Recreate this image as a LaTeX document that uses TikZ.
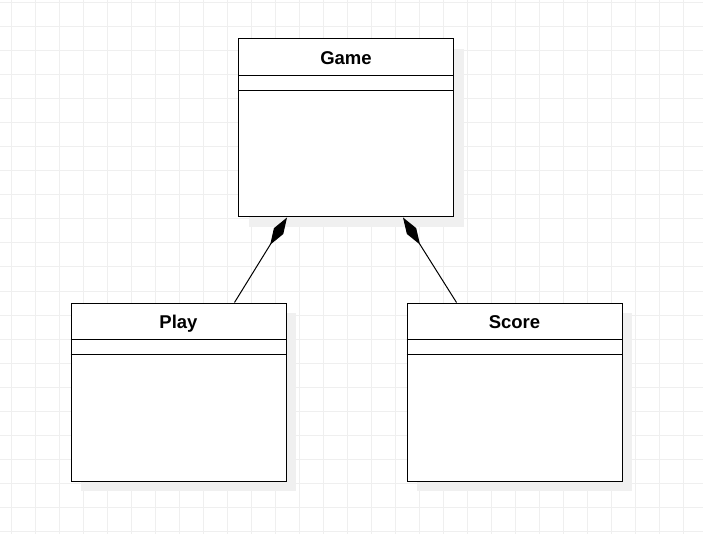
\documentclass[tikz,border=0pt]{standalone}
\usepackage{fontspec}
\setmainfont{Liberation Sans}
\usetikzlibrary{arrows.meta,calc,shadows}
\definecolor{gridgray}{HTML}{EFEFEF}
\definecolor{shadowgray}{HTML}{F0F0F0}
\tikzset{
  classbox/.style={draw=black, line width=1pt, fill=white, rectangle,
    minimum width=215pt, minimum height=178pt, inner sep=0pt,
    general shadow={shadow xshift=10pt, shadow yshift=-10pt, fill=shadowgray}},
  classtitle/.style={anchor=base, inner sep=0pt, font=\bfseries\fontsize{18.5}{22}\selectfont},
  sepline/.style={draw=black, line width=1pt},
  comp/.style={draw=black, line width=1pt, -{Diamond[length=32pt,width=11pt,fill=black]}},
  gridline/.style={draw=gridgray, line width=1pt}
}
\begin{document}
\begin{tikzpicture}[x=1pt,y=-1pt]
\useasboundingbox (0,0) rectangle (703,534);
\fill[white] (0,0) rectangle (703,534);
\foreach \gx in {11,35,...,703} { \draw[gridline] (\gx,0) -- (\gx,534); }
\foreach \gy in {3,27,...,534} { \draw[gridline] (0,\gy) -- (703,\gy); }

\node[classbox] (game) at (346,128) {};
\node[classbox] (play) at (178.5,392) {};
\node[classbox] (score) at (514.5,392) {};

\foreach \b in {game,play,score} {
  \draw[sepline] ($(\b.north west)+(0,37)$) -- ($(\b.north east)+(0,37)$);
  \draw[sepline] ($(\b.north west)+(0,52)$) -- ($(\b.north east)+(0,52)$);
}
\node[classtitle] (gameT) at ($(game.north)+(0,26)$) {Game};
\node[classtitle] (playT) at ($(play.north)+(0,26)$) {Play};
\node[classtitle] (scoreT) at ($(score.north)+(0,26)$) {Score};

\coordinate (gl) at ($(game.south)+(-59,0)$);
\coordinate (gr) at ($(game.south)+(57,0)$);
\coordinate (pt) at ($(play.north)+(56,0)$);
\coordinate (st) at ($(score.north)+(-58,0)$);
\draw[comp] (pt) -- (gl);
\draw[comp] (st) -- (gr);
\end{tikzpicture}
\end{document}
